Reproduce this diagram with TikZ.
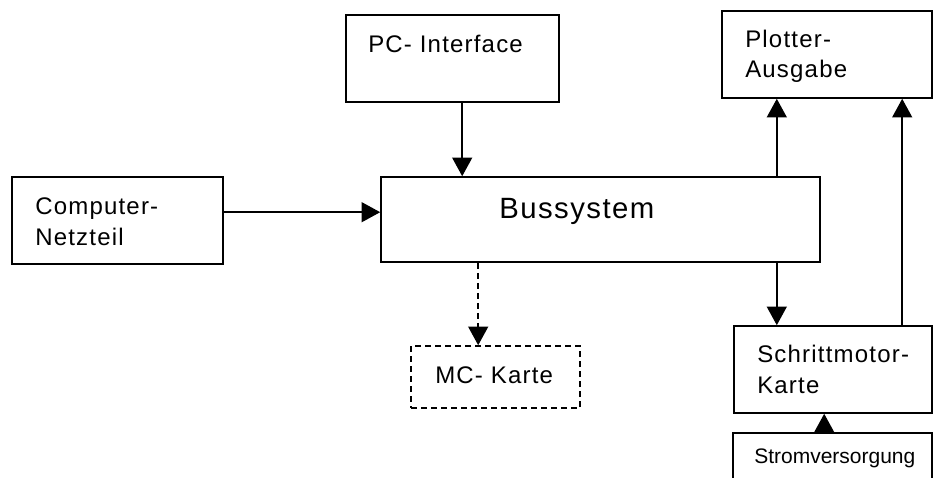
\documentclass[tikz,border=0pt]{standalone}
\usepackage{fontspec}
\setmainfont{Liberation Sans}
\newfontfamily\winfont[LetterSpace=5]{Liberation Sans}
\usetikzlibrary{arrows.meta, positioning, calc, fit}

\begin{document}
\begin{tikzpicture}[x=0.75pt, y=-0.75pt,
  box/.style={draw, line width=1.2pt, inner sep=0pt},
  dbox/.style={box, dash pattern=on 4.5pt off 3pt},
  lbl/.style={anchor=base west, inner sep=0pt, align=left,
    font=\winfont\fontsize{18}{23}\selectfont},
  arr/.style={-{Triangle[width=15pt, length=14pt]}, line width=1.2pt}]
  \useasboundingbox (0,0) rectangle (933,478);
  \clip (0,0) rectangle (933,478);

  % blocks
  \node[box, fit={(346,15) (559,102)}] (pc) {};
  \node[lbl] (pclbl) at (368,53) {PC- Interface};
  \node[box, fit={(722,11) (932,98)}] (plot) {};
  \node[lbl] (plotlbl) at (745,78) {Plotter-\\Ausgabe};
  \node[box, fit={(12,177) (223,264)}] (net) {};
  \node[lbl] (netlbl) at (35,245) {Computer-\\Netzteil};
  \node[box, fit={(381,177) (820,262)}] (bus) {};
  \node[lbl, font=\winfont\fontsize{22}{26}\selectfont] (buslbl) at (499,219) {Bussystem};
  \node[dbox, fit={(411,346) (580,408)}] (mc) {};
  \node[lbl] (mclbl) at (435,383) {MC- Karte};
  \node[box, fit={(734,326) (932,413)}] (motor) {};
  \node[lbl] (motorlbl) at (757,393) {Schrittmotor-\\Karte};
  \node[box, fit={(733,433) (932,500)}] (strom) {};
  \node[lbl, font=\fontsize{15.75}{19}\selectfont] (stromlbl) at (754,463) {Stromversorgung};

  % connections
  \draw[arr] ($(pc.south west)+(117,0)$) coordinate (a1) -- (a1 |- bus.north);
  \draw[arr] ($(net.north east)+(0,36)$) coordinate (a2) -- (a2 -| bus.west);
  \draw[arr, dash pattern=on 4.5pt off 3pt] ($(bus.south west)+(98,0)$) coordinate (a3) -- (a3 |- mc.north);
  \draw[arr] ($(bus.north east)+(-44,0)$) coordinate (a4) -- (a4 |- plot.south);
  \draw[arr] ($(bus.south east)+(-44,0)$) coordinate (a5) -- (a5 |- motor.north);
  \draw[arr] ($(motor.north west)+(169,0)$) coordinate (a6) -- (a6 |- plot.south);
  \draw[arr] ($(strom.north west)+(92,0)$) coordinate (a7) -- (a7 |- motor.south);
\end{tikzpicture}
\end{document}
